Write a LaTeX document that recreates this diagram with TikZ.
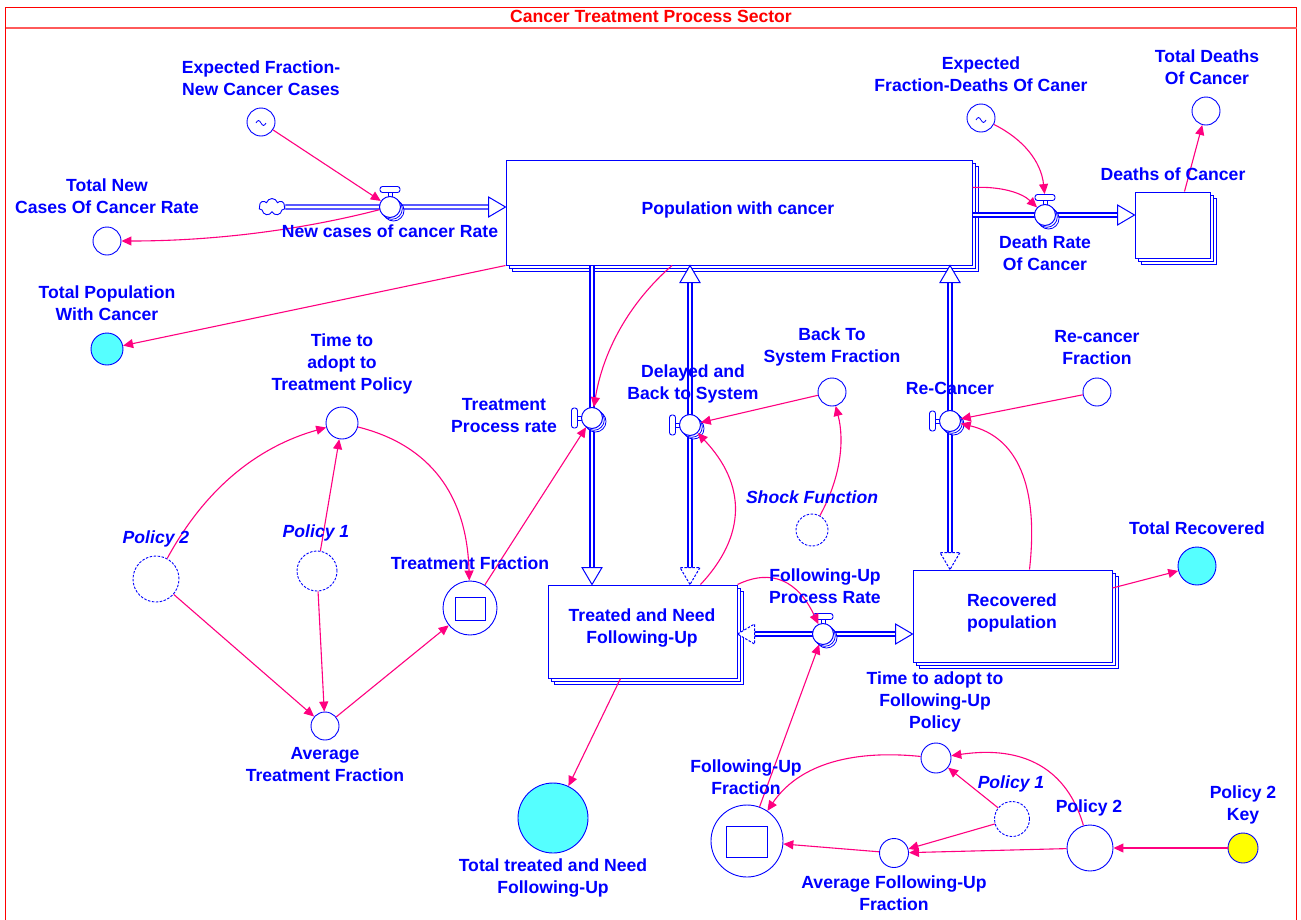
\documentclass[tikz,border=0pt]{standalone}
\usepackage{fontspec}
\setmainfont{Liberation Sans}
\usetikzlibrary{arrows.meta,shapes.symbols}
\definecolor{lk}{RGB}{255,0,128}
\definecolor{sd}{RGB}{0,0,255}
\definecolor{cy}{RGB}{85,255,255}
\definecolor{fr}{RGB}{255,0,0}
\definecolor{frl}{RGB}{255,90,90}
\definecolor{ky}{RGB}{255,255,0}
\newcommand\lf{\fontsize{17.6}{22}\selectfont\bfseries}

% stock with two stacked layers behind it: name, x1, y1, x2, y2
\newcommand\stk[5]{%
  \draw[sd, fill=white, line width=0.9pt] (#2+6,#3+6) rectangle (#4+6,#5+6);
  \draw[sd, fill=white, line width=0.9pt] (#2+3,#3+3) rectangle (#4+3,#5+3);
  \node[stockbox, minimum width={(#4)-(#2)}, minimum height={(#5)-(#3)}] (#1) at ({((#2)+(#4))/2},{((#3)+(#5))/2}) {};
}
% valve with handle on top (horizontal flow)
\newcommand\valveh[3]{%
  \draw[sd, fill=white, line width=0.8pt] (#2+3.5,#3+3.5) circle[radius=10.5pt];
  \draw[sd, fill=white, line width=0.8pt] (#2+1.8,#3+1.8) circle[radius=10.5pt];
  \draw[sd, fill=white, line width=0.9pt] (#2-2,#3-15) rectangle (#2+2,#3-10);
  \node[handle, minimum width=20pt, minimum height=6pt] (#1h) at (#2,#3-17.5) {};
  \node[valve] (#1) at (#2,#3) {};
}
% valve with handle on the left (vertical flow)
\newcommand\valvev[3]{%
  \draw[sd, fill=white, line width=0.8pt] (#2+3.5,#3+3.5) circle[radius=10.5pt];
  \draw[sd, fill=white, line width=0.8pt] (#2+1.8,#3+1.8) circle[radius=10.5pt];
  \draw[sd, fill=white, line width=0.9pt] (#2-15,#3-2) rectangle (#2-10,#3+2);
  \node[handle, minimum width=6pt, minimum height=20pt] (#1h) at (#2-17.5,#3) {};
  \node[valve] (#1) at (#2,#3) {};
}
% graphical-function mark inside a converter
\newcommand\gf[2]{%
  \draw[sd, line width=0.8pt] (#1-5,#2) sin (#1-2.5,#2-2.5) cos (#1,#2) sin (#1+2.5,#2+2.5) cos (#1+5,#2);
}

\begin{document}
\begin{tikzpicture}[x=1pt,y=-1pt,
  lbl/.style={text=sd, font=\lf, align=center, inner sep=0pt},
  ilbl/.style={text=sd, font=\lf\itshape, align=center, inner sep=0pt},
  conv/.style={circle, draw=sd, fill=white, line width=0.9pt, inner sep=0pt, minimum size=#1},
  dconv/.style={conv=#1, dash pattern=on 2.5pt off 1.5pt},
  stockbox/.style={draw=sd, fill=white, line width=1pt, inner sep=0pt},
  valve/.style={circle, draw=sd, fill=white, line width=1pt, inner sep=0pt, minimum size=21pt},
  handle/.style={draw=sd, fill=white, line width=0.9pt, rounded corners=2.5pt, inner sep=0pt},
  pipe/.style={draw=sd, line width=1.3pt, double=white, double distance=2.6pt},
  conn/.style={draw=lk, line width=1.1pt, -{Triangle[length=10pt,width=9pt]}},
  headst/.style={draw=sd, fill=white, line width=1pt, line join=miter},
  hr/.pic={\draw[headst] (0,0) -- (-17,-10) -- (-17,10) -- cycle;},
  hl/.pic={\draw[headst] (0,0) -- (17,-10) -- (17,10) -- cycle;},
  hu/.pic={\draw[headst] (0,0) -- (-10,17) -- (10,17) -- cycle;},
  hd/.pic={\draw[headst] (0,0) -- (-10,-17) -- (10,-17) -- cycle;},
  dashhead/.style={dash pattern=on 2.5pt off 1.5pt}
]
\useasboundingbox (0,0) rectangle (1301,919);
\fill[white] (0,0) rectangle (1301,919);

% sector frame
\draw[fr, line width=1pt] (5.5,930) -- (5.5,7.5) -- (1296.5,7.5) -- (1296.5,930);
\draw[frl, line width=2pt] (5.5,27.5) -- (1296.5,27.5);
\node[text=fr, font=\lf, inner sep=0pt] (title) at (651,16) {Cancer Treatment Process Sector};

% stocks
\stk{pop}{506}{160}{972}{265}
\stk{dc}{1135}{192}{1210}{258}
\stk{tr}{548}{585}{737}{678}
\stk{rec}{913}{570}{1112}{662}

% source cloud
\node[cloud, cloud puffs=7, draw=sd, fill=white, line width=0.9pt, minimum width=26pt, minimum height=17pt, inner sep=0pt] (cl) at (272,207) {};

% flow positions
\coordinate (pN) at (390,207);
\coordinate (pD) at (1045,215);
\coordinate (pT) at (592,418);
\coordinate (pB) at (690,425);
\coordinate (pR) at (950,421);
\coordinate (pF) at (823,634);

% pipes
\draw[pipe, shorten >=16pt] (cl.east) -- (pop.west |- pN);
\pic at (pop.west |- pN) {hr};
\draw[pipe, shorten >=16pt] (pop.east |- pD) -- (dc.west |- pD);
\pic at (dc.west |- pD) {hr};
\draw[pipe, shorten >=16pt] (pop.south -| pT) -- (tr.north -| pT);
\pic at (tr.north -| pT) {hd};
\draw[pipe, shorten >=16pt, shorten <=16pt] (tr.north -| pB) -- (pop.south -| pB);
\pic at (pop.south -| pB) {hu};
\pic[dashhead] at (tr.north -| pB) {hd};
\draw[pipe, shorten >=16pt, shorten <=16pt] (rec.north -| pR) -- (pop.south -| pR);
\pic at (pop.south -| pR) {hu};
\pic[dashhead] at (rec.north -| pR) {hd};
\draw[pipe, shorten >=16pt, shorten <=16pt] (tr.east |- pF) -- (rec.west |- pF);
\pic at (rec.west |- pF) {hr};
\pic[dashhead] at (tr.east |- pF) {hl};

% valves
\valveh{vN}{390}{207}
\valveh{vD}{1045}{215}
\valvev{vT}{592}{418}
\valvev{vB}{690}{425}
\valvev{vR}{950}{421}
\valveh{vF}{823}{634}

% converters
\node[conv=28pt] (eN) at (261,122) {}; \gf{261}{123}
\node[conv=28pt] (tN) at (107,241) {};
\node[conv=32pt, fill=cy] (tP) at (107,349) {};
\node[conv=32pt] (tA) at (342,423) {};
\node[dconv=46pt] (p2L) at (156,579) {};
\node[dconv=40pt] (p1L) at (317,571) {};
\node[conv=54pt] (tF) at (470,608) {};
\draw[sd, line width=1pt] (455,597) rectangle (485,620);
\node[conv=28pt] (aT) at (325,726) {};
\node[conv=70pt, fill=cy] (tT) at (553,818) {};
\node[conv=28pt] (eD) at (981,118) {}; \gf{981}{120}
\node[conv=28pt] (tD) at (1206,111) {};
\node[conv=28pt] (bS) at (832,392) {};
\node[dconv=32pt] (sF) at (812,530) {};
\node[conv=28pt] (rF) at (1097,392) {};
\node[conv=38pt, fill=cy] (tR) at (1197,566) {};
\node[conv=30pt] (tU) at (936,758) {};
\node[dconv=35pt] (p1R) at (1012,819) {};
\node[conv=46pt] (p2R) at (1090,848) {};
\node[conv=30pt, fill=ky] (pK) at (1243,848) {};
\node[conv=29pt] (aF) at (894,853) {};
\node[conv=72pt] (fF) at (747,841) {};
\draw[sd, line width=1pt] (726,826) rectangle (767,857);

% connectors
\draw[conn] (eN) -- (vN);
\draw[conn] (vN) .. controls (293,232) and (206,241) .. (tN);
\draw[conn] (pop.south west) -- (tP);
\draw[conn] ([xshift=-67pt]pop.south) .. controls (628,304) and (603,352) .. (vT);
\draw[conn] (tF) -- (vT);
\draw[conn] (tA) .. controls (430,445) and (467,495) .. (tF);
\draw[conn] (p2L) .. controls (205,489) and (257,447) .. (tA);
\draw[conn] (p1L) -- (tA);
\draw[conn] (p2L) -- (aT);
\draw[conn] (p1L) -- (aT);
\draw[conn] (aT) -- (tF);
\draw[conn] ([xshift=-22pt]tr.south) -- (tT);
\draw[conn] ([xshift=58pt]tr.north) .. controls (746,536) and (747,485) .. (vB);
\draw[conn] (bS) -- (vB);
\draw[conn] (sF) .. controls (840,479) and (845,442) .. (bS);
\draw[conn] (rF) -- (vR);
\draw[conn] ([xshift=17pt]rec.north) .. controls (1039,485) and (1017,437) .. (vR);
\draw[conn] ([yshift=25pt]pop.east) .. controls (1001,186) and (1022,193) .. (vD);
\draw[conn] (eD) .. controls (1023,139) and (1041,161) .. (vDh);
\draw[conn] ([xshift=12pt]dc.north) -- (tD);
\draw[conn] ([yshift=28pt]rec.east) -- (tR);
\draw[conn] (tr.north east) .. controls (772,568) and (798,581) .. (vF);
\draw[conn] (fF) -- (vF);
\draw[conn] (tU) .. controls (847,749) and (797,767) .. (fF);
\draw[conn] (p2R) .. controls (1067,769) and (1024,745) .. (tU);
\draw[conn] (p1R) -- (tU);
\draw[conn] (p1R) -- (aF);
\draw[conn] (p2R) -- (aF);
\draw[conn] (aF) -- (fF);
\draw[conn] (pK) -- (p2R);

% labels
\node[lbl] (lpop) at (738,210) {Population with cancer};
\node[lbl] (ldc) at (1173,174) {Deaths of Cancer};
\node[lbl] (ltr) at (642,628) {Treated and Need\\Following-Up};
\node[lbl] (lrec) at (1012,613) {Recovered\\population};
\node[lbl] (lvN) at (390,231) {New cases of cancer Rate};
\node[lbl] (lvD) at (1045,253) {Death Rate\\Of Cancer};
\node[lbl] (lvT) at (504,416) {Treatment\\Process rate};
\node[lbl] (lvB) at (693,384) {Delayed and\\Back to System};
\node[lbl] (lvR) at (950,388) {Re-Cancer};
\node[lbl] (lvF) at (825,586) {Following-Up\\Process Rate};
\node[lbl] (leN) at (261,78) {Expected Fraction-\\New Cancer Cases};
\node[lbl] (ltN) at (107,196) {Total New\\Cases Of Cancer Rate};
\node[lbl] (ltP) at (107,303) {Total Population\\With Cancer};
\node[lbl] (ltA) at (342,364) {Time to\\adopt to\\Treatment Policy};
\node[ilbl] (lp2L) at (156,539) {Policy 2};
\node[ilbl] (lp1L) at (316,533) {Policy 1};
\node[lbl] (ltF) at (470,563) {Treatment Fraction};
\node[lbl] (laT) at (325,765) {Average\\Treatment Fraction};
\node[lbl] (ltT) at (553,878) {Total treated and Need\\Following-Up};
\node[lbl] (leD) at (981,74) {Expected\\Fraction-Deaths Of Caner};
\node[lbl] (ltD) at (1207,67) {Total Deaths\\Of Cancer};
\node[lbl] (lbS) at (832,347) {Back To\\System Fraction};
\node[ilbl] (lsF) at (812,497) {Shock Function};
\node[lbl] (lrF) at (1097,348) {Re-cancer\\Fraction};
\node[lbl] (ltR) at (1197,528) {Total Recovered};
\node[lbl] (ltU) at (935,702) {Time to adopt to\\Following-Up\\Policy};
\node[ilbl] (lp1R) at (1011,784) {Policy 1};
\node[lbl] (lp2R) at (1089,808) {Policy 2};
\node[lbl] (lpK) at (1243,805) {Policy 2\\Key};
\node[lbl] (laF) at (894,893) {Average Following-Up\\Fraction};
\node[lbl] (lfF) at (746,777) {Following-Up\\Fraction};
\end{tikzpicture}
\end{document}
